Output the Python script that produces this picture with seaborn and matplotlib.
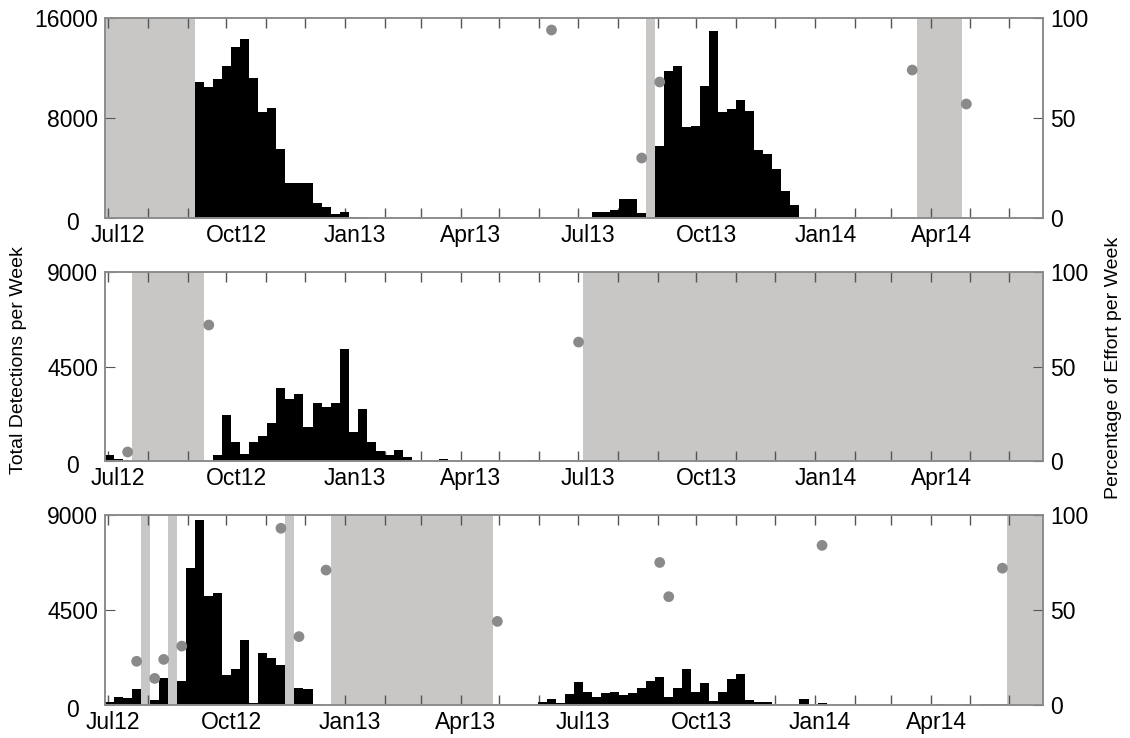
import matplotlib
matplotlib.use("Agg")
import matplotlib.pyplot as plt
from matplotlib.transforms import ScaledTranslation
import pandas as pd
import seaborn as sns

sns.set_style("white")
plt.rcParams['font.family'] = ['Liberation Sans', 'DejaVu Sans']

# weekly bins: week 0 starts 29 Jun 2012, 104 weeks in total
week0 = -2          # days relative to 1 Jul 2012
n_weeks = 104

# total detections per week, one value per week (k = 0..103)
site1_counts = [
    0, 0, 0, 0, 0, 0, 0, 0, 0, 0, 10900, 10500, 11100,
    12200, 13700, 14300, 11200, 8500, 8800, 5500, 2800, 2800, 2800, 1200, 900, 300,
    500, 100, 80, 30, 0, 0, 0, 0, 0, 0, 0, 0, 0,
    0, 0, 0, 0, 0, 0, 0, 0, 0, 0, 0, 0, 0,
    0, 30, 500, 500, 610, 1550, 1550, 430, 0, 5750, 11740, 12200, 7270,
    7400, 10600, 15000, 8500, 8760, 9420, 8600, 5430, 5140, 3940, 2130, 1010, 110,
    0, 0, 0, 0, 0, 0, 40, 40, 0, 0, 0, 0, 0,
    0, 0, 0, 0, 0, 0, 0, 0, 0, 0, 0, 0, 0,
]
site2_counts = [
    330, 140, 0, 0, 0, 0, 0, 0, 0, 0, 0, 0, 300,
    2230, 940, 370, 920, 1210, 1810, 3510, 2960, 3200, 1620, 2800, 2610, 2800,
    5340, 1380, 2470, 910, 490, 300, 530, 230, 0, 20, 20, 100, 0,
    0, 0, 15, 0, 0, 0, 0, 0, 60, 0, 0, 0, 0,
    0, 0, 0, 0, 0, 0, 0, 0, 0, 0, 0, 0, 0,
    0, 0, 0, 0, 0, 0, 0, 0, 0, 0, 0, 0, 0,
    0, 0, 0, 0, 0, 0, 0, 0, 0, 0, 0, 0, 0,
    0, 0, 0, 0, 0, 0, 0, 0, 0, 0, 0, 0, 0,
]
site3_counts = [
    160, 370, 340, 780, 0, 240, 1260, 0, 1150, 6500, 8750, 5150, 5300,
    1400, 1720, 3060, 80, 2450, 2210, 1900, 0, 800, 765, 60, 15, 0,
    0, 0, 0, 0, 0, 0, 0, 0, 0, 0, 0, 0, 0,
    0, 0, 0, 0, 0, 0, 0, 0, 0, 160, 300, 100, 500,
    1090, 610, 390, 570, 615, 470, 590, 810, 1125, 1345, 365, 810, 1715,
    614, 1054, 205, 614, 1211, 1479, 252, 157, 157, 63, 31, 31, 280,
    10, 80, 0, 0, 0, 0, 20, 0, 0, 0, 0, 0, 0,
    0, 30, 0, 0, 60, 0, 25, 25, 25, 0, 0, 0, 0,
]

# weeks without recording effort: (first week, end week exclusive)
site1_gaps = [(0, 10), (60, 61), (90, 95)]
site2_gaps = [(3, 11), (53, 104)]
site3_gaps = [(4, 5), (7, 8), (20, 21), (25, 43), (100, 104)]

# weeks with partial effort and their percentage
site1_effort_weeks = [49, 59, 61, 89, 95]
site1_effort_pct = [94, 30, 68, 74, 57]
site2_effort_weeks = [2, 11, 52]
site2_effort_pct = [5, 72, 63]
site3_effort_weeks = [3, 5, 6, 8, 19, 21, 24, 43, 61, 62, 79, 99]
site3_effort_pct = [23, 14, 24, 31, 93, 36, 71, 44, 75, 57, 84, 72]

left_ymax = [16000, 9000, 9000]

ref = pd.Timestamp("2012-07-01")
months = pd.date_range("2012-07-01", "2014-06-01", freq="MS")
month_days = [(m - ref).days for m in months]
quarters = [m for m in months if m.month in (1, 4, 7, 10)]

shade = "#c9c6c6"
dot = "#8a8a8a"
spine = "#8c8c8c"
tickc = "#555555"

fig = plt.figure(figsize=(11.3, 7.38), dpi=100)
positions = [
    [0.093, 0.7046, 0.830, 0.271],
    [0.093, 0.3747, 0.830, 0.2568],
    [0.093, 0.0447, 0.830, 0.2575],
]

panels = [
    (site1_counts, site1_gaps, site1_effort_weeks, site1_effort_pct, 8),
    (site2_counts, site2_gaps, site2_effort_weeks, site2_effort_pct, 8),
    (site3_counts, site3_gaps, site3_effort_weeks, site3_effort_pct, 4),
]

edges = [week0 + 7 * k for k in range(n_weeks + 1)]

for i, (counts, gaps, eweeks, epct, shift) in enumerate(panels):
    ax = fig.add_axes(positions[i])
    for a, b in gaps:
        ax.axvspan(edges[a], edges[b], color=shade, lw=0, zorder=0)

    df = pd.DataFrame({"start": edges[:-1], "count": counts})
    df = df[df["count"] > 0]
    sns.histplot(data=df, x="start", weights="count", bins=edges, color="black",
                 alpha=1, linewidth=0, antialiased=False, ax=ax, zorder=2)

    ymax = left_ymax[i]
    ax.set_xlim(edges[0], edges[-1])
    ax.set_ylim(0, ymax)
    ax.set_yticks([0, ymax / 2, ymax])
    ax.set_yticklabels([f"{int(v)}" for v in [0, ymax / 2, ymax]])
    ax.set_xlabel("")
    ax.set_ylabel("")

    ax.set_xticks([(q - ref).days + shift for q in quarters])
    ax.set_xticklabels([q.strftime("%b%y") for q in quarters])
    ax.set_xticks(month_days, minor=True)
    ax.tick_params(axis="x", which="major", length=0, labelsize=16.5, pad=4,
                   labelcolor="black")
    ax.tick_params(axis="x", which="minor", direction="in", length=7,
                   top=True, bottom=True, color=tickc, width=1)
    ax.tick_params(axis="y", direction="in", length=7, left=True, right=False,
                   labelsize=16.5, color=tickc, pad=5, labelcolor="black")
    # the zero label sits further left, clear of the first date label
    zero = ax.get_yticklabels()[0]
    zero.set_transform(zero.get_transform() +
                       ScaledTranslation(-14 / 72, -2 / 72, fig.dpi_scale_trans))

    ax2 = ax.twinx()
    sns.scatterplot(x=[week0 + 7 * k + 3.5 for k in eweeks], y=epct, ax=ax2,
                    color=dot, s=60, edgecolor="none", zorder=3)
    ax2.set_ylim(0, 100)
    ax2.set_yticks([0, 50, 100])
    ax2.set_yticklabels(["0", "50", "100"])
    ax2.tick_params(axis="y", direction="in", length=7, right=True,
                    labelsize=16.5, color=tickc, pad=5, labelcolor="black")
    ax2.set_ylabel("")

    for a in (ax, ax2):
        for s in a.spines.values():
            s.set_color(spine)
            s.set_linewidth(1.2)
            s.set_visible(True)

fig.text(0.016, 0.512, "Total Detections per Week", rotation=90,
         ha="center", va="center", fontsize=14, color="black")
fig.text(0.985, 0.502, "Percentage of Effort per Week", rotation=90,
         ha="center", va="center", fontsize=14, color="black")

fig.savefig("out.png", dpi=100)
